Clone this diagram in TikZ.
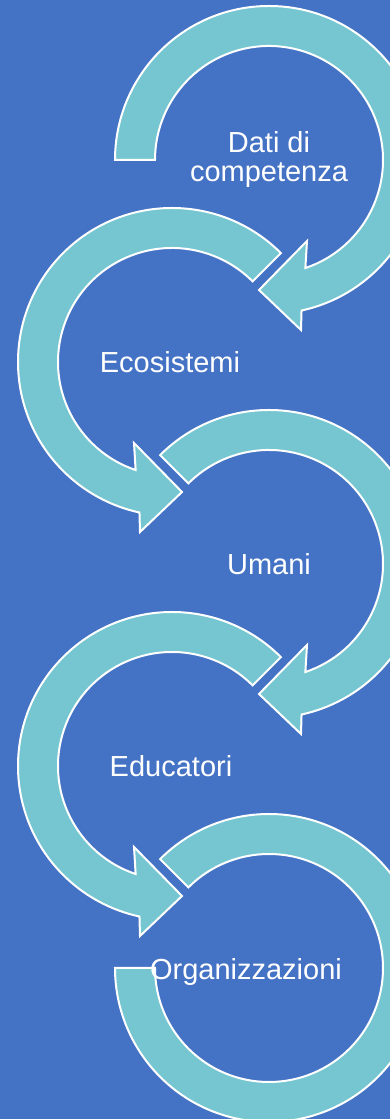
\documentclass[tikz,border=0pt]{standalone}
\usepackage{fontspec}
\setmainfont{Liberation Sans}
\definecolor{slideblue}{RGB}{68,114,196}
\definecolor{ringteal}{RGB}{117,198,208}

\begin{document}
\begin{tikzpicture}[
		x=1pt, y=1pt,
		ring/.style = {fill=ringteal, draw=white, line width=2pt, line join=miter},
		every node/.style = {
			text=white, align=center, inner sep=0pt,
			font=\fontsize{29}{29}\selectfont}]
	
	\fill[slideblue] (0,0) rectangle (390,1119);
	\useasboundingbox (0,0) rectangle (390,1119);
	\clip (0,0) rectangle (390,1119);
	
	\coordinate (c1) at (269,959);
	\coordinate (c2) at (172,757);
	\coordinate (c3) at (269,555);
	\coordinate (c4) at (172,353);
	\coordinate (c5) at (269,151);
	
	% clockwise rings, head at the bottom
	\draw[ring, shift={(c1)}] (180:154) arc[start angle=180, end angle=-77.8, radius=154]
		-- (32,-170) -- (-10,-130) -- (38,-81)
		-- (-71.4:114) arc[start angle=-71.4, end angle=180, radius=114] -- cycle;
	\draw[ring, shift={(c3)}] (135:154) arc[start angle=135, end angle=-77.8, radius=154]
		-- (32,-170) -- (-10,-130) -- (38,-81)
		-- (-71.4:114) arc[start angle=-71.4, end angle=135, radius=114] -- cycle;
	
	% counter-clockwise rings
	\draw[ring, shift={(c2)}] (45:154) arc[start angle=45, end angle=257.8, radius=154]
		-- (-32,-170) -- (10,-130) -- (-38,-81)
		-- (251.4:114) arc[start angle=251.4, end angle=45, radius=114] -- cycle;
	\draw[ring, shift={(c4)}] (45:154) arc[start angle=45, end angle=257.8, radius=154]
		-- (-32,-170) -- (10,-130) -- (-38,-81)
		-- (251.4:114) arc[start angle=251.4, end angle=45, radius=114] -- cycle;
	
	% last ring, no head
	\draw[ring, shift={(c5)}] (135:154) arc[start angle=135, end angle=-180, radius=154]
		-- (180:114) arc[start angle=-180, end angle=135, radius=114] -- cycle;
	
	\node (dati) at (c1) {Dati di\\competenza};
	\node (ecosistemi) at ([xshift=-2pt]c2) {Ecosistemi};
	\node (umani) at (c3) {Umani};
	\node (educatori) at ([xshift=-1pt]c4) {Educatori};
	\node (organizzazioni) at (246,147) {Organizzazioni};
\end{tikzpicture}
\end{document}
